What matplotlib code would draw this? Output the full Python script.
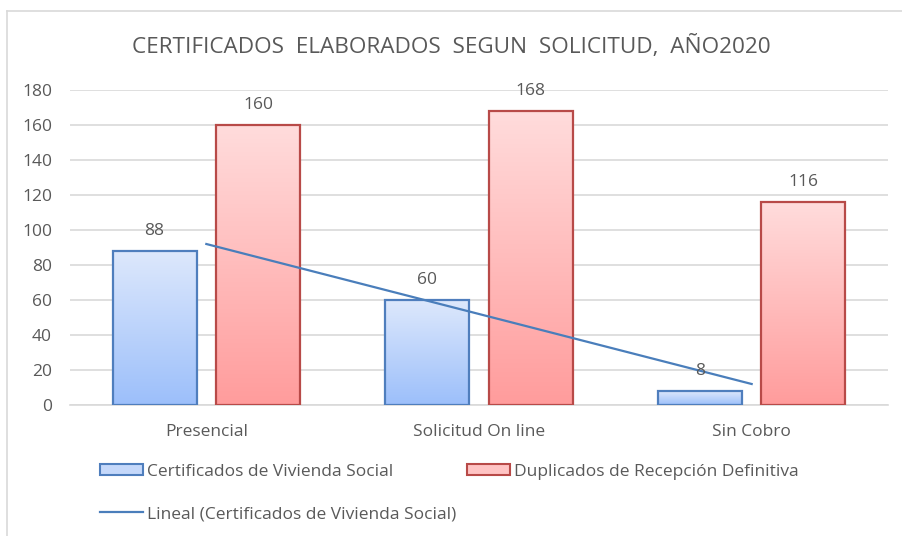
import numpy as np
import matplotlib
matplotlib.use("Agg")
import matplotlib.pyplot as plt
from matplotlib.patches import Rectangle
from matplotlib.lines import Line2D
from matplotlib.colors import LinearSegmentedColormap

categories = ["Presencial", "Solicitud On line", "Sin Cobro"]
vivienda = [88, 60, 8]
duplicados = [160, 168, 116]
series_names = ["Certificados de Vivienda Social", "Duplicados de Recepción Definitiva"]
trend_name = "Lineal (Certificados de Vivienda Social)"
title = "CERTIFICADOS  ELABORADOS  SEGUN  SOLICITUD,  AÑO2020"
yticks = [0, 20, 40, 60, 80, 100, 120, 140, 160, 180]

plt.rcParams['font.family'] = ['Open Sans', 'DejaVu Sans']
TXT = "#595959"
GRID = "#D9D9D9"
FS = 12.5

fig = plt.figure(figsize=(9.02, 5.36), dpi=100)
ax = fig.add_axes([70/902, 1 - 405/536, 818/902, 315/536])

x = np.arange(len(categories))
w = 0.308
off = 0.19

blue_cmap = LinearSegmentedColormap.from_list("b", ["#9CBFFA", "#DDE8FC"])
red_cmap = LinearSegmentedColormap.from_list("r", ["#FF9C9C", "#FFDCDC"])
grad = np.linspace(0, 1, 256).reshape(-1, 1)

def draw_bars(xs, vals, cmap, edge):
    for xi, v in zip(xs, vals):
        ax.imshow(grad, extent=[xi - w/2, xi + w/2, 0, v], origin="lower",
                  aspect="auto", cmap=cmap, zorder=2, interpolation="bilinear")
    ax.bar(xs, vals, width=w, facecolor="none", edgecolor=edge, linewidth=1.6, zorder=3)
    for xi, v in zip(xs, vals):
        ax.text(xi, v + 7, f"{v}", ha="center", va="bottom", fontsize=FS, color=TXT, zorder=5)

draw_bars(x - off, vivienda, blue_cmap, "#4F7EBD")
draw_bars(x + off, duplicados, red_cmap, "#B84A48")

# linear trendline (least squares fit of the blue series)
coef = np.polyfit(x, vivienda, 1)
ax.plot(x, np.polyval(coef, x), color="#4A7EBB", linewidth=1.6, zorder=4)

ax.set_xlim(-0.5, 2.5)
ax.set_ylim(0, 180)
ax.set_yticks(yticks)
ax.set_xticks(x)
ax.set_xticklabels(categories)
ax.tick_params(axis="both", length=0, labelsize=FS, labelcolor=TXT)
ax.tick_params(axis="y", pad=13)
ax.tick_params(axis="x", pad=14)
ax.yaxis.grid(True, color=GRID, linewidth=1.2, zorder=0)
ax.set_axisbelow(True)
for s in ["top", "right", "left"]:
    ax.spines[s].set_visible(False)
ax.spines["bottom"].set_color(GRID)
ax.spines["bottom"].set_linewidth(1.2)

fig.text(451/902, 1 - 47/536, title, ha="center", va="center", fontsize=16.2, color=TXT)

# legend
h1 = Rectangle((0, 0), 1, 1, facecolor="#C5D8FA", edgecolor="#4F7EBD", linewidth=1.5)
h2 = Rectangle((0, 0), 1, 1, facecolor="#FFC4C4", edgecolor="#B84A48", linewidth=1.5)
h3 = Line2D([0], [0], color="#4A7EBB", linewidth=1.6)
common = dict(frameon=False, fontsize=FS, labelcolor=TXT, handlelength=2.45,
              handletextpad=0.25, borderpad=0, borderaxespad=0)
fig.legend([h1], [series_names[0]], loc="center left", bbox_to_anchor=(100/902, 1 - 472/536),
           handleheight=0.6, **common)
fig.legend([h2], [series_names[1]], loc="center left", bbox_to_anchor=(467/902, 1 - 472/536),
           handleheight=0.6, **common)
fig.legend([h3], [trend_name], loc="center left", bbox_to_anchor=(100/902, 1 - 514/536), **common)

# chart border (top and left visible)
fig.add_artist(Line2D([7/902, 7/902], [0, 1 - 11/536], color=GRID, linewidth=1.2, transform=fig.transFigure))
fig.add_artist(Line2D([7/902, 1], [1 - 11/536, 1 - 11/536], color=GRID, linewidth=1.2, transform=fig.transFigure))

fig.savefig("out.png", dpi=100)
